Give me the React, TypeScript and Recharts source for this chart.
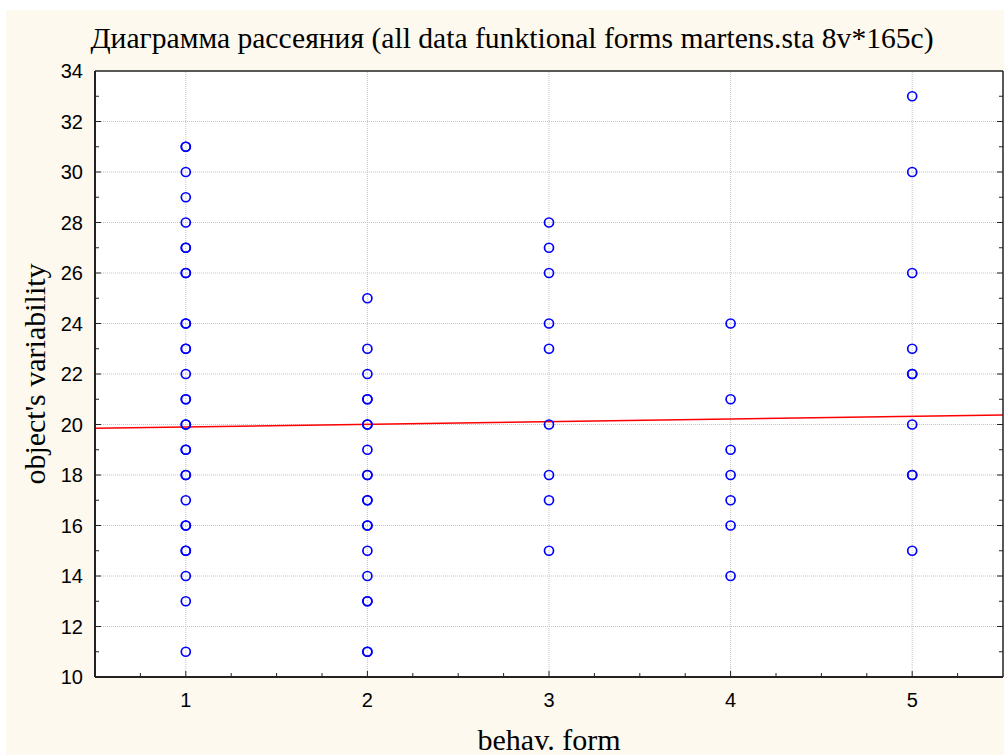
import React from 'react';
import { ScatterChart, Scatter, XAxis, YAxis, ReferenceLine } from 'recharts';

// observed values per behav. form (repeats = overlapping points)
const FORM_1 = [31, 31, 30, 29, 28, 27, 27, 26, 26, 24, 24, 23, 23, 22, 21, 21, 20, 20, 19, 19, 18, 18, 17, 16, 16, 15, 15, 14, 13, 11];
const FORM_2 = [25, 23, 22, 21, 21, 20, 20, 19, 18, 18, 17, 17, 16, 16, 15, 14, 13, 13, 11, 11];
const FORM_3 = [28, 27, 26, 24, 23, 20, 18, 17, 15];
const FORM_4 = [24, 21, 19, 18, 17, 16, 14];
const FORM_5 = [33, 30, 26, 23, 22, 22, 20, 18, 18, 15];
const FORMS = [FORM_1, FORM_2, FORM_3, FORM_4, FORM_5];

// fitted line, ends at the axis limits
const FIT = [
  { x: 0.5, y: 19.85 },
  { x: 5.5, y: 20.38 },
];

const X_MAJOR = [1, 2, 3, 4, 5];
const X_TICKS = [0.5, 0.75, 1, 1.25, 1.5, 1.75, 2, 2.25, 2.5, 2.75, 3, 3.25, 3.5, 3.75, 4, 4.25, 4.5, 4.75, 5, 5.25, 5.5];
const Y_MAJOR = [10, 12, 14, 16, 18, 20, 22, 24, 26, 28, 30, 32, 34];
const Y_TICKS = [10, 11, 12, 13, 14, 15, 16, 17, 18, 19, 20, 21, 22, 23, 24, 25, 26, 27, 28, 29, 30, 31, 32, 33, 34];

const points = FORMS.flatMap((vals, i) => vals.map((v) => ({ x: i + 1, y: v })));

const AXIS = '#222';
const GRID = '#c4c4c4';
const SANS = '"Liberation Sans", Arial, sans-serif';
const SERIF = '"Liberation Serif", "Times New Roman", serif';

const isMajorX = (v: number) => X_MAJOR.includes(v);
const isMajorY = (v: number) => Y_MAJOR.includes(v);

function XTick(props: any) {
  const { x, y, payload, side } = props;
  const major = isMajorX(payload.value);
  const len = major ? 6 : 4;
  const dir = side === 'top' ? 1 : -1;
  return (
    <g>
      {payload.value > 0.5 && payload.value < 5.5 && (
        <line x1={x} y1={y} x2={x} y2={y + dir * len} stroke={AXIS} strokeWidth={1} />
      )}
      {side !== 'top' && major && (
        <text x={x} y={y + 30} textAnchor="middle" fontFamily={SANS} fontSize={20} fill="#000">
          {payload.value}
        </text>
      )}
    </g>
  );
}

function YTick(props: any) {
  const { x, y, payload, side } = props;
  const major = isMajorY(payload.value);
  const len = major ? 6 : 4;
  const dir = side === 'right' ? -1 : 1;
  return (
    <g>
      {payload.value > 10 && payload.value < 34 && (
        <line x1={x} y1={y} x2={x + dir * len} y2={y} stroke={AXIS} strokeWidth={1} />
      )}
      {side !== 'right' && major && (
        <text x={x - 12} y={y + 7} textAnchor="end" fontFamily={SANS} fontSize={20} fill="#000">
          {payload.value}
        </text>
      )}
    </g>
  );
}

const Ring = (props: any) => {
  const { cx, cy } = props;
  return <circle cx={cx} cy={cy} r={4.5} fill="none" stroke="#0000ff" strokeWidth={1.7} />;
};

export default function App() {
  return (
    <div style={{ position: 'absolute', left: 0, top: 0, width: 1004, height: 755, background: '#fff', overflow: 'hidden' }}>
      <div style={{ position: 'absolute', left: 6, top: 10, width: 998, height: 745, background: '#fdf9ee' }} />
      <div style={{ position: 'absolute', left: 95, top: 71, width: 908, height: 606, background: '#fff' }} />
      <div
        style={{
          position: 'absolute',
          left: 0,
          top: 21,
          width: 1024,
          textAlign: 'center',
          fontFamily: SERIF,
          fontSize: 29.6,
          lineHeight: '34px',
          color: '#000',
          whiteSpace: 'nowrap',
        }}
      >
        Диаграмма рассеяния (all data funktional forms martens.sta 8v*165c)
      </div>
      <div
        style={{
          position: 'absolute',
          left: 35,
          top: 374,
          transform: 'translate(-50%, -50%) rotate(-90deg)',
          fontFamily: SERIF,
          fontSize: 30,
          lineHeight: '34px',
          color: '#000',
          whiteSpace: 'nowrap',
        }}
      >
        object's variability
      </div>
      <div
        style={{
          position: 'absolute',
          left: 549,
          top: 740,
          transform: 'translate(-50%, -50%)',
          fontFamily: SERIF,
          fontSize: 30,
          lineHeight: '34px',
          color: '#000',
          whiteSpace: 'nowrap',
        }}
      >
        behav. form
      </div>
      <div style={{ position: 'absolute', left: 0, top: 0 }}>
        <ScatterChart width={1004} height={755} margin={{ top: 70, right: 0, bottom: 48, left: 65 }}>
          <XAxis
            type="number"
            dataKey="x"
            domain={[0.5, 5.5]}
            ticks={X_TICKS}
            interval={0}
            allowDataOverflow
            height={30}
            tickSize={0}
            tickMargin={0}
            tickLine={false}
            axisLine={{ stroke: AXIS, strokeWidth: 2 }}
            tick={<XTick side="bottom" />}
          />
          <XAxis
            xAxisId="top"
            orientation="top"
            type="number"
            domain={[0.5, 5.5]}
            ticks={X_TICKS}
            interval={0}
            allowDataOverflow
            height={1}
            tickSize={0}
            tickMargin={0}
            tickLine={false}
            axisLine={{ stroke: AXIS, strokeWidth: 1.5 }}
            tick={<XTick side="top" />}
          />
          <YAxis
            type="number"
            dataKey="y"
            domain={[10, 34]}
            ticks={Y_TICKS}
            interval={0}
            allowDataOverflow
            width={30}
            tickSize={0}
            tickMargin={0}
            tickLine={false}
            axisLine={{ stroke: AXIS, strokeWidth: 2 }}
            tick={<YTick side="left" />}
          />
          <YAxis
            yAxisId="right"
            orientation="right"
            type="number"
            domain={[10, 34]}
            ticks={Y_TICKS}
            interval={0}
            allowDataOverflow
            width={1}
            tickSize={0}
            tickMargin={0}
            tickLine={false}
            axisLine={{ stroke: AXIS, strokeWidth: 1.5 }}
            tick={<YTick side="right" />}
          />
          {Y_MAJOR.slice(1, -1).map((v) => (
            <ReferenceLine key={'h' + v} y={v} stroke={GRID} strokeDasharray="1 1" />
          ))}
          {X_MAJOR.map((v) => (
            <ReferenceLine key={'v' + v} x={v} stroke={GRID} strokeDasharray="1 1" />
          ))}
          <ReferenceLine segment={FIT} stroke="#ff0000" strokeWidth={1.5} ifOverflow="hidden" />
          <Scatter data={points} shape={<Ring />} isAnimationActive={false} />
        </ScatterChart>
      </div>
    </div>
  );
}
